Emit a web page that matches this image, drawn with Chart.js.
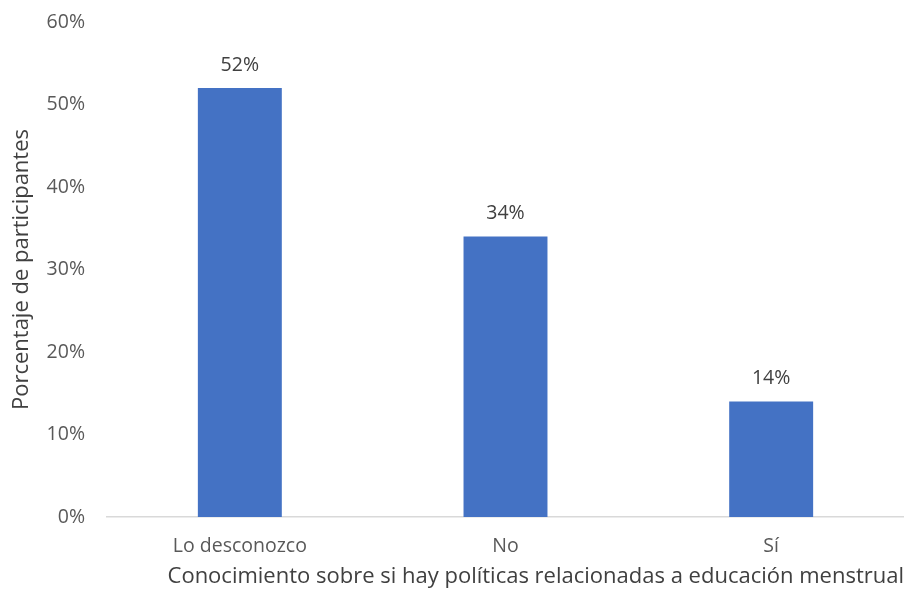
<!DOCTYPE html>
<html>
<head>
<meta charset="utf-8">
<script src="https://cdn.jsdelivr.net/npm/chart.js@4/dist/chart.umd.min.js"></script>
<style>
  body { margin: 0; background: #fff; }
  #wrap { width: 904px; height: 590px; }
</style>
</head>
<body>
<div id="wrap"><canvas id="barChart" width="904" height="590"></canvas></div>
<script>
var categories = ['Lo desconozco', 'No', 'Sí'];
var values = [52, 34, 14];
var yTicks = [0, 10, 20, 30, 40, 50, 60];

var barLabels = {
    id: 'barLabels',
    afterDatasetsDraw: function (chart) {
        var c = chart.ctx;
        var meta = chart.getDatasetMeta(0);
        c.save();
        c.font = '19.5px "Open Sans", sans-serif';
        c.fillStyle = '#404040';
        c.textAlign = 'center';
        c.textBaseline = 'middle';
        meta.data.forEach(function (bar, i) {
            c.fillText(values[i] + '%', bar.x, bar.y - 23);
        });
        c.restore();
    }
};

var ctx = document.getElementById('barChart').getContext('2d');
var myChart = new Chart(ctx, {
    type: 'bar',
    data: {
        labels: categories,
        datasets: [{
            data: values,
            backgroundColor: '#4472C4',
            barPercentage: 1,
            categoryPercentage: 0.316
        }]
    },
    options: {
        responsive: false,
        animation: false,
        layout: { padding: { top: 22, right: 0, left: 9, bottom: 0 } },
        plugins: {
            legend: { display: false },
            tooltip: { enabled: false }
        },
        scales: {
            x: {
                afterFit: function (axis) { axis.height = 73; },
                grid: { display: false, drawTicks: false },
                border: { color: '#d9d9d9', width: 1.5 },
                ticks: {
                    color: '#595959',
                    padding: 18,
                    font: { family: '"Open Sans", sans-serif', size: 19.5 }
                },
                title: {
                    display: true,
                    align: 'end',
                    text: 'Conocimiento sobre si hay políticas relacionadas a educación menstrual',
                    color: '#404040',
                    padding: { top: 0, bottom: 0 },
                    font: { family: '"Open Sans", sans-serif', size: 22 }
                }
            },
            y: {
                min: 0,
                max: 60,
                afterFit: function (axis) {
                    axis.width = 98;
                    axis.paddingTop = 0;
                    axis.paddingBottom = 0;
                },
                afterBuildTicks: function (axis) {
                    axis.ticks = yTicks.map(function (v) { return { value: v }; });
                },
                grid: { display: false, drawTicks: false },
                border: { display: false },
                ticks: {
                    color: '#595959',
                    padding: 22,
                    font: { family: '"Open Sans", sans-serif', size: 19.5 },
                    callback: function (v) { return v + '%'; }
                },
                title: {
                    display: true,
                    text: 'Porcentaje de participantes',
                    color: '#404040',
                    padding: { top: 0, bottom: 0 },
                    font: { family: '"Open Sans", sans-serif', size: 22 }
                }
            }
        }
    },
    plugins: [barLabels]
});
</script>
</body>
</html>
